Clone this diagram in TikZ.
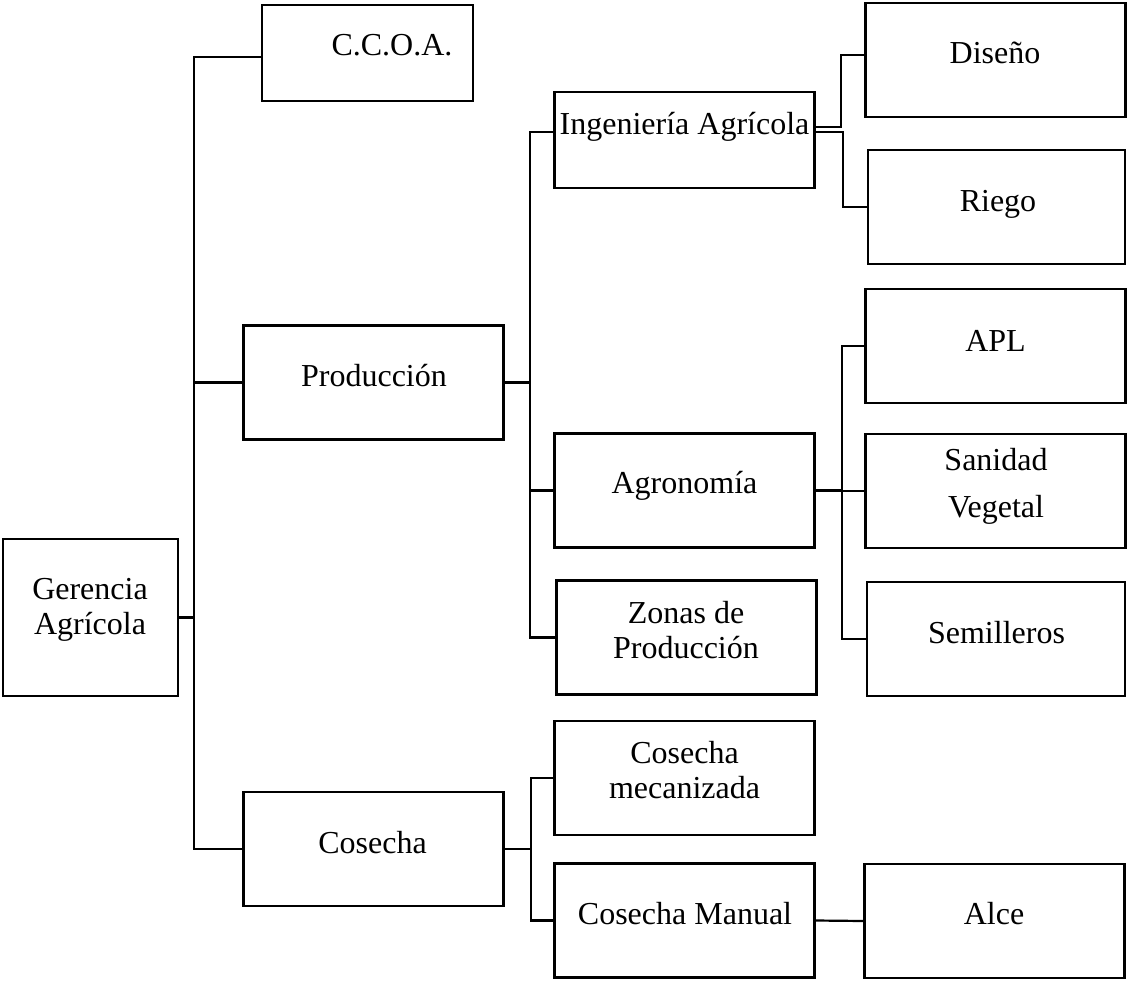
\documentclass[tikz,border=0pt]{standalone}
\usepackage{fontspec}
\setmainfont{Liberation Serif}
\begin{document}
\begin{tikzpicture}[x=1pt, y=-1pt]

    % Estilos
    \tikzstyle{area} = [rectangle, draw=black, line width=2.6pt, minimum width=260pt, minimum height=114pt, inner sep=0pt]
    \tikzstyle{txt} = [anchor=base, align=center, inner sep=0pt, font=\fontsize{32}{35}\selectfont]
    \tikzstyle{link} = [draw=black, line width=2.2pt]

    \useasboundingbox (0,0) rectangle (1127,980);

    % Nodos
    \node (ger) [area, minimum width=175pt, minimum height=157pt] at (90.5,617.5) {};
    \node (ccoa) [area, minimum width=211pt, minimum height=96pt] at (367.5,53) {};
    \node (prod) [area] at (373.5,382.5) {};
    \node (cos) [area] at (373.5,849) {};
    \node (ing) [area, minimum height=96pt] at (684.5,140) {};
    \node (agro) [area] at (684.5,490.5) {};
    \node (zonas) [area] at (686.5,637.5) {};
    \node (mec) [area] at (684.5,778) {};
    \node (man) [area] at (684.5,920.5) {};
    \node (dis) [area] at (995.5,60) {};
    \node (riego) [area, minimum width=257pt] at (996.5,207) {};
    \node (apl) [area] at (995.5,346) {};
    \node (san) [area] at (995.5,491) {};
    \node (sem) [area, minimum width=258pt] at (996,639) {};
    \node (alce) [area] at (994.5,921) {};

    % Textos (base = ultima linea)
    \node (ger-t) [txt] at (90,634) {Gerencia\\Agrícola};
    \node (ccoa-t) [txt] at (392,55) {C.C.O.A.};
    \node (prod-t) [txt] at (374,386) {Producción};
    \node (cos-t) [txt] at (372.5,853) {Cosecha};
    \node (ing-t) [txt] at (684.5,134) {Ingeniería Agrícola};
    \node (agro-t) [txt] at (684.5,493) {Agronomía};
    \node (zonas-t) [txt] at (686,658) {Zonas de\\Producción};
    \node (mec-t) [txt] at (684.5,798) {Cosecha\\mecanizada};
    \node (man-t) [txt] at (685,924) {Cosecha Manual};
    \node (dis-t) [txt] at (995,63) {Diseño};
    \node (riego-t) [txt] at (998,211) {Riego};
    \node (apl-t) [txt] at (995.5,351) {APL};
    \node (san-t) [txt] at (996,517) {Sanidad\\[12pt]Vegetal};
    \node (sem-t) [txt] at (996.5,643) {Semilleros};
    \node (alce-t) [txt] at (994,924) {Alce};

    % Conectores
    \draw [link] (ger.east) -- ++(15,0) |- ([yshift=-4pt]ccoa.west);
    \draw [link] (ger.east) -- ++(15,0) |- (prod.west);
    \draw [link] (ger.east) -- ++(15,0) |- (cos.west);
    \draw [link] (prod.east) -- ++(25,0) |- ([yshift=8pt]ing.west);
    \draw [link] (prod.east) -- ++(25,0) |- (agro.west);
    \draw [link] (prod.east) -- ++(25,0) |- (zonas.west);
    \draw [link] ([yshift=13pt]ing.east) -- ++(25,0) |- ([yshift=5pt]dis.west);
    \draw [link] ([yshift=8pt]ing.east) -- ++(27,0) |- (riego.west);
    \draw [link] (agro.east) -- ++(26,0) |- (apl.west);
    \draw [link] (agro.east) -- ++(26,0) |- (san.west);
    \draw [link] (agro.east) -- ++(26,0) |- (sem.west);
    \draw [link] (cos.east) -- ++(26,0) |- (mec.west);
    \draw [link] (cos.east) -- ++(26,0) |- (man.west);
    \draw [link] (man.east) -- (alce.west);

\end{tikzpicture}
\end{document}
